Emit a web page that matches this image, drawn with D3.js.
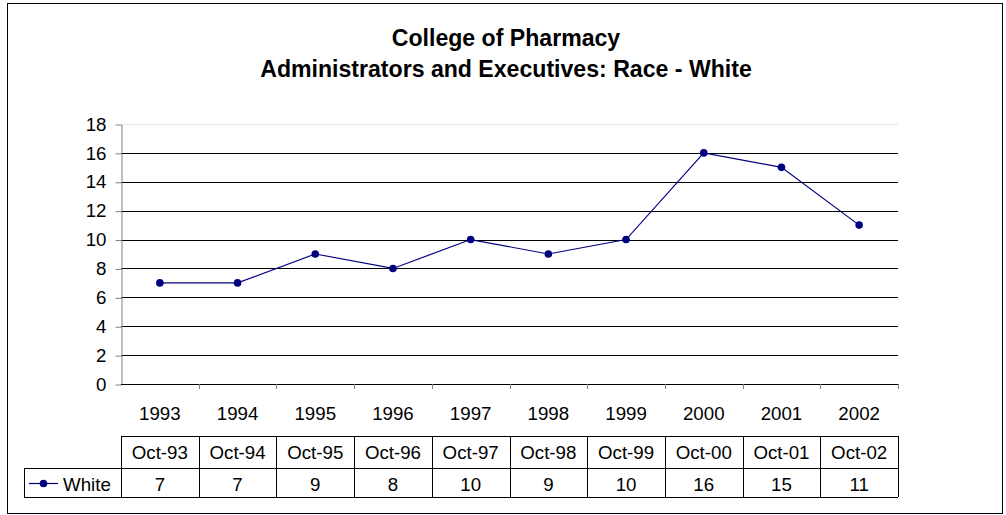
<!DOCTYPE html>
<html lang="en">
<head>
<meta charset="UTF-8">
<title>College of Pharmacy</title>
<script src="https://d3js.org/d3.v7.min.js"></script>
<style>
    body { margin: 0; background: #fff; }
    text { font-family: "Liberation Sans", Arial, sans-serif; fill: #000; }
    .title { font-weight: bold; font-size: 23.1px; }
    .tick text { font-size: 18.7px; }
    .lbl { font-size: 18.7px; }
</style>
</head>
<body>
<div id="chart"></div>
<script>
var years = ["1993", "1994", "1995", "1996", "1997", "1998", "1999", "2000", "2001", "2002"];
var months = ["Oct-93", "Oct-94", "Oct-95", "Oct-96", "Oct-97", "Oct-98", "Oct-99", "Oct-00", "Oct-01", "Oct-02"];
var white = [7, 7, 9, 8, 10, 9, 10, 16, 15, 11];
var yTicks = [0, 2, 4, 6, 8, 10, 12, 14, 16, 18];
var seriesName = "White";

var W = 1006, H = 515;
var plot = {left: 121, right: 898, top: 124, bottom: 384};

var svg = d3.select("#chart").append("svg")
    .attr("width", W).attr("height", H);

// outer frame
svg.append("rect")
    .attr("x", 7.5).attr("y", 3.5)
    .attr("width", 995).attr("height", 510)
    .attr("fill", "none").attr("stroke", "#000").attr("stroke-width", 1);

svg.append("text").attr("class", "title")
    .attr("x", 506).attr("y", 46).attr("text-anchor", "middle")
    .text("College of Pharmacy");
svg.append("text").attr("class", "title")
    .attr("x", 506).attr("y", 77).attr("text-anchor", "middle")
    .text("Administrators and Executives: Race - White");

var x = d3.scaleBand()
    .domain(years)
    .range([plot.left, plot.right]);

var y = d3.scaleLinear()
    .domain([0, 18])
    .range([plot.bottom, plot.top]);

// gridlines
svg.append("g")
    .selectAll("line")
    .data(yTicks.filter(function (d) { return d > 0; }))
    .enter()
    .append("line")
    .attr("x1", plot.left).attr("x2", plot.right)
    .attr("y1", function (d) { return Math.round(y(d)) + 0.5; })
    .attr("y2", function (d) { return Math.round(y(d)) + 0.5; })
    .attr("stroke", function (d) { return d === 18 ? "#e4e4e4" : "#000"; });

// y axis
var yAxis = svg.append("g")
    .attr("transform", "translate(" + (plot.left + 0.5) + ",0.5)")
    .call(d3.axisLeft(y).tickValues(yTicks).tickSize(6).tickPadding(9).tickSizeOuter(0));
yAxis.select(".domain").attr("stroke", "#808080");
yAxis.selectAll(".tick line").attr("stroke", "#808080");
yAxis.selectAll(".tick text").attr("dy", "0.3em");

// x axis: baseline + boundary ticks
svg.append("line")
    .attr("x1", plot.left).attr("x2", plot.right)
    .attr("y1", plot.bottom + 0.5).attr("y2", plot.bottom + 0.5)
    .attr("stroke", "#000");
svg.append("g")
    .selectAll("line")
    .data(years)
    .enter()
    .append("line")
    .attr("x1", function (d) { return Math.round(x(d) + x.bandwidth()) + 0.5; })
    .attr("x2", function (d) { return Math.round(x(d) + x.bandwidth()) + 0.5; })
    .attr("y1", plot.bottom).attr("y2", plot.bottom + 5)
    .attr("stroke", "#808080");

// year labels
svg.append("g")
    .selectAll("text")
    .data(years)
    .enter()
    .append("text")
    .attr("class", "lbl")
    .attr("x", function (d) { return x(d) + x.bandwidth() / 2; })
    .attr("y", 420)
    .attr("text-anchor", "middle")
    .text(function (d) { return d; });

// line
var line = d3.line()
    .x(function (d, i) { return x(years[i]) + x.bandwidth() / 2; })
    .y(function (d) { return y(d); });

svg.append("path")
    .datum(white)
    .attr("d", line)
    .attr("fill", "none")
    .attr("stroke", "#000080")
    .attr("stroke-width", 1.2);

svg.append("g")
    .selectAll("circle")
    .data(white)
    .enter()
    .append("circle")
    .attr("cx", function (d, i) { return x(years[i]) + x.bandwidth() / 2; })
    .attr("cy", function (d) { return y(d); })
    .attr("r", 3.8)
    .attr("fill", "#000080");

// data table
var row1 = 436, row2 = 468, row3 = 497, legLeft = 24;
var tbl = svg.append("g").attr("stroke", "#000").attr("fill", "none");
tbl.append("line").attr("x1", plot.left).attr("x2", plot.right).attr("y1", row1 + 0.5).attr("y2", row1 + 0.5);
tbl.append("line").attr("x1", legLeft).attr("x2", plot.right).attr("y1", row2 + 0.5).attr("y2", row2 + 0.5);
tbl.append("line").attr("x1", legLeft).attr("x2", plot.right).attr("y1", row3 + 0.5).attr("y2", row3 + 0.5);
tbl.append("line").attr("x1", legLeft + 0.5).attr("x2", legLeft + 0.5).attr("y1", row2).attr("y2", row3);
tbl.append("line").attr("x1", plot.left + 0.5).attr("x2", plot.left + 0.5).attr("y1", row1).attr("y2", row3);
tbl.selectAll(".vsep")
    .data(years)
    .enter()
    .append("line")
    .attr("x1", function (d) { return Math.round(x(d) + x.bandwidth()) + 0.5; })
    .attr("x2", function (d) { return Math.round(x(d) + x.bandwidth()) + 0.5; })
    .attr("y1", row1).attr("y2", row3);

svg.append("g")
    .selectAll("text")
    .data(months)
    .enter()
    .append("text")
    .attr("class", "lbl")
    .attr("x", function (d, i) { return x(years[i]) + x.bandwidth() / 2; })
    .attr("y", 458.5)
    .attr("text-anchor", "middle")
    .text(function (d) { return d; });

svg.append("g")
    .selectAll("text")
    .data(white)
    .enter()
    .append("text")
    .attr("class", "lbl")
    .attr("x", function (d, i) { return x(years[i]) + x.bandwidth() / 2; })
    .attr("y", 490.5)
    .attr("text-anchor", "middle")
    .text(function (d) { return d; });

// legend key
svg.append("line")
    .attr("x1", 29).attr("x2", 58)
    .attr("y1", row2 + 15.5).attr("y2", row2 + 15.5)
    .attr("stroke", "#000080").attr("stroke-width", 1.2);
svg.append("circle")
    .attr("cx", 43.5).attr("cy", row2 + 15.5).attr("r", 3.8)
    .attr("fill", "#000080");
svg.append("text")
    .attr("class", "lbl")
    .attr("x", 63).attr("y", 490.5)
    .text(seriesName);
</script>
</body>
</html>
